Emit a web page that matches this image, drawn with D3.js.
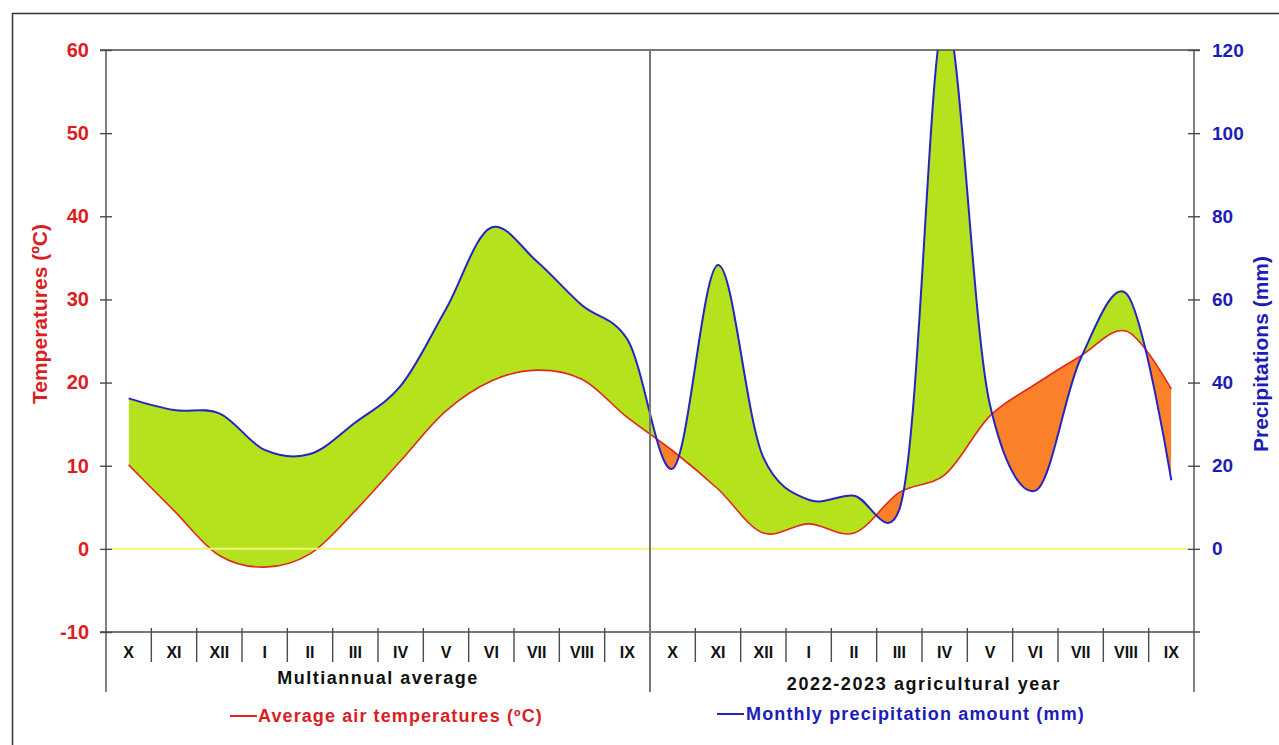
<!DOCTYPE html>
<html>
<head>
<meta charset="utf-8">
<script src="https://cdn.jsdelivr.net/npm/d3@7"></script>
<style>
  html, body { margin: 0; padding: 0; background: #fff; }
  text { font-family: "Liberation Sans", Arial, sans-serif; font-weight: bold; }
</style>
</head>
<body>
<svg id="chart" width="1279" height="745"></svg>
<script>
// ---------- data ----------
const monthLabels = ["X","XI","XII","I","II","III","IV","V","VI","VII","VIII","IX",
                     "X","XI","XII","I","II","III","IV","V","VI","VII","VIII","IX"];
const periodLabels = ["Multiannual average", "2022-2023 agricultural year"];
// Average air temperatures (°C)
const tempMultiannual = [10.1, 4.6, -0.8, -2.2, -0.6, 4.6, 10.6, 16.6, 20.2, 21.5, 20.4, 15.8];
const temp2022_2023   = [11.8, 7.2, 1.9, 3.0, 1.9, 6.8, 8.9, 16.0, 19.8, 23.2, 26.2, 19.2];
// Monthly precipitation amount (mm)
const precMultiannual = [36.2, 33.4, 32.6, 23.8, 22.8, 30.4, 39.2, 57.7, 77.3, 69.2, 58.6, 50.4];
const prec2022_2023   = [19.3, 68.3, 22.0, 11.8, 12.8, 9.5, 128, 34.6, 14.0, 45.8, 61.5, 16.5];
const tempTicks = [-10, 0, 10, 20, 30, 40, 50, 60];
const precTicks = [0, 20, 40, 60, 80, 100, 120];
const legendLabels = ["Average air temperatures (ºC)", "Monthly precipitation amount (mm)"];
const axisTitles = ["Temperatures (ºC)", "Precipitations (mm)"];

const temps = tempMultiannual.concat(temp2022_2023);
const precs = precMultiannual.concat(prec2022_2023);
const data = temps.map((t, i) => ({ i, t, p: precs[i] }));

// ---------- layout ----------
const L = 106, R = 1194, T = 50, B = 632;
const RED = "#e0281c", BLUE = "#2424c4", RED_TXT = "#da1e22", BLUE_TXT = "#1c1cb6";
const GREEN_FILL = "#b4e31d", ORANGE_FILL = "#fa8029";
const AXIS = "#4a4a4a";

const svg = d3.select("#chart");
svg.append("rect").attr("width", 1279).attr("height", 745).attr("fill", "#fff");
// outer frame
svg.append("rect").attr("x", 12.5).attr("y", 13.5).attr("width", 1300).attr("height", 800)
   .attr("fill", "none").attr("stroke", "#333").attr("stroke-width", 1.5);

const x = d3.scaleBand().domain(d3.range(24)).range([L, R]).paddingInner(0).paddingOuter(0);
const xc = i => x(i) + x.bandwidth() / 2;
const yT = d3.scaleLinear().domain([-10, 60]).range([B, T]);
const yP = d3.scaleLinear().domain([-20, 120]).range([B, T]);

const curve = d3.curveCatmullRom.alpha(0.2);

const defs = svg.append("defs");
defs.append("clipPath").attr("id", "plotClip").append("rect")
    .attr("x", L).attr("y", T).attr("width", R - L).attr("height", B - T);
defs.append("clipPath").attr("id", "aboveRed").append("path")
    .attr("d", d3.area().curve(curve).x(d => xc(d.i)).y0(-200).y1(d => yT(d.t))(data));
defs.append("clipPath").attr("id", "belowRed").append("path")
    .attr("d", d3.area().curve(curve).x(d => xc(d.i)).y0(d => yT(d.t)).y1(1000)(data));

const plot = svg.append("g").attr("clip-path", "url(#plotClip)");
// green: below precipitation, above temperature
plot.append("g").attr("clip-path", "url(#aboveRed)").append("path")
    .attr("d", d3.area().curve(curve).x(d => xc(d.i)).y0(B).y1(d => yP(d.p))(data))
    .attr("fill", GREEN_FILL);
// orange: above precipitation, below temperature
plot.append("g").attr("clip-path", "url(#belowRed)").append("path")
    .attr("d", d3.area().curve(curve).x(d => xc(d.i)).y0(-200).y1(d => yP(d.p))(data))
    .attr("fill", ORANGE_FILL);

// zero line
svg.append("line").attr("x1", L + 6).attr("x2", R - 6).attr("y1", yT(0)).attr("y2", yT(0))
   .attr("stroke", "#f3f27c").attr("stroke-width", 2);

plot.append("path").attr("d", d3.line().curve(curve).x(d => xc(d.i)).y(d => yT(d.t))(data))
    .attr("fill", "none").attr("stroke", RED).attr("stroke-width", 1.6);
plot.append("path").attr("d", d3.line().curve(curve).x(d => xc(d.i)).y(d => yP(d.p))(data))
    .attr("fill", "none").attr("stroke", BLUE).attr("stroke-width", 2);

// frame lines
const frame = svg.append("g").attr("stroke", AXIS).attr("stroke-width", 1.4);
frame.append("line").attr("x1", L - 6).attr("x2", R + 6).attr("y1", T).attr("y2", T);
frame.append("line").attr("x1", L - 6).attr("x2", R + 6).attr("y1", B).attr("y2", B);
frame.append("line").attr("x1", L).attr("x2", L).attr("y1", T).attr("y2", 692);
frame.append("line").attr("x1", R).attr("x2", R).attr("y1", T).attr("y2", 692);
svg.append("line").attr("x1", x(12)).attr("x2", x(12)).attr("y1", T).attr("y2", 692)
   .attr("stroke", "#777").attr("stroke-width", 2);
// month dividers
d3.range(1, 24).filter(i => i !== 12).forEach(i => {
  frame.append("line").attr("x1", x(i)).attr("x2", x(i)).attr("y1", B - 4).attr("y2", 662);
});

const fmt = d => String(d); // plain hyphen-minus as in the original

// left axis
const gl = svg.append("g").attr("transform", `translate(${L},0)`)
  .call(d3.axisLeft(yT).tickValues(tempTicks).tickFormat(fmt).tickSize(0).tickPadding(17));
gl.select(".domain").remove();
gl.selectAll(".tick").append("line").attr("x1", -6).attr("x2", 6).attr("stroke", AXIS).attr("stroke-width", 1.4);
gl.selectAll(".tick text").attr("fill", RED_TXT).style("font-size", "20px")
  .style("font-family", "'Liberation Sans', Arial, sans-serif").style("font-weight", "bold");

// right axis
const gr = svg.append("g").attr("transform", `translate(${R},0)`)
  .call(d3.axisRight(yP).tickValues(precTicks).tickFormat(fmt).tickSize(0).tickPadding(18));
gr.select(".domain").remove();
gr.selectAll(".tick").append("line").attr("x1", -6).attr("x2", 6).attr("stroke", AXIS).attr("stroke-width", 1.4);
gr.selectAll(".tick text").attr("fill", BLUE_TXT).style("font-size", "19px")
  .style("font-family", "'Liberation Sans', Arial, sans-serif").style("font-weight", "bold");

// month labels
svg.append("g").selectAll("text").data(monthLabels).join("text")
  .attr("x", (d, i) => xc(i)).attr("y", 658).attr("text-anchor", "middle")
  .attr("fill", "#111").style("font-size", "16px").text(d => d);

// period labels
svg.append("text").attr("x", (L + x(12)) / 2).attr("y", 684).attr("text-anchor", "middle")
  .attr("fill", "#111").style("font-size", "18px").style("letter-spacing", "1.5px").text(periodLabels[0]);
svg.append("text").attr("x", (x(12) + R) / 2 + 2).attr("y", 690).attr("text-anchor", "middle")
  .attr("fill", "#111").style("font-size", "18px").style("letter-spacing", "1.6px").text(periodLabels[1]);

// axis titles
svg.append("text").attr("transform", "translate(47,314) rotate(-90)").attr("text-anchor", "middle")
  .attr("fill", RED_TXT).style("font-size", "21px").text(axisTitles[0]);
svg.append("text").attr("transform", "translate(1268,354) rotate(-90)").attr("text-anchor", "middle")
  .attr("fill", BLUE_TXT).style("font-size", "21px").text(axisTitles[1]);

// legend
svg.append("line").attr("x1", 230).attr("x2", 257).attr("y1", 716).attr("y2", 716)
  .attr("stroke", RED).attr("stroke-width", 2);
svg.append("text").attr("x", 258).attr("y", 722).attr("fill", RED_TXT)
  .style("font-size", "18px").style("letter-spacing", "1.1px").text(legendLabels[0]);
svg.append("line").attr("x1", 717).attr("x2", 744).attr("y1", 714).attr("y2", 714)
  .attr("stroke", BLUE).attr("stroke-width", 2);
svg.append("text").attr("x", 746).attr("y", 720).attr("fill", BLUE_TXT)
  .style("font-size", "18px").style("letter-spacing", "1.15px").text(legendLabels[1]);
</script>
</body>
</html>
